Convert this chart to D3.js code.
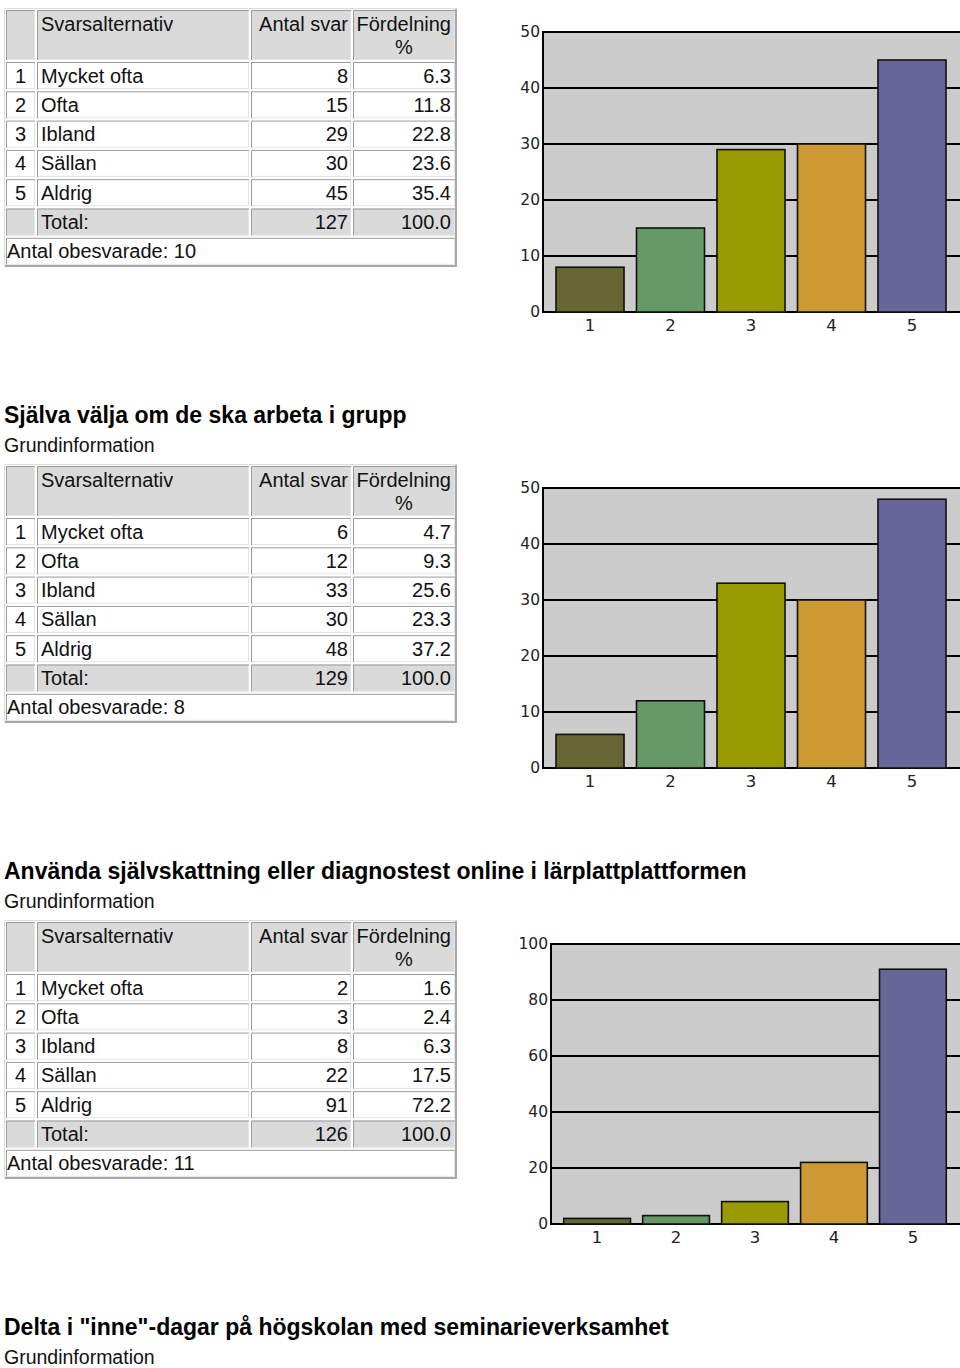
<!DOCTYPE html>
<html>
<head>
<meta charset="utf-8">
<script src="https://cdn.jsdelivr.net/npm/d3@7"></script>
<style>
  html, body { margin: 0; padding: 0; background: #fff; }
  svg { display: block; }
</style>
</head>
<body>
<div id="chart"></div>
<script>
// ---------- DATA ----------
const categories = ["Mycket ofta", "Ofta", "Ibland", "Sällan", "Aldrig"];
const xTickLabels = ["1", "2", "3", "4", "5"];
const headerLabels = ["Svarsalternativ", "Antal svar", "Fördelning", "%"];
const titles = [
  null,
  "Själva välja om de ska arbeta i grupp",
  "Använda självskattning eller diagnostest online i lärplattplattformen",
  "Delta i \"inne\"-dagar på högskolan med seminarieverksamhet"
];
const subtitle = "Grundinformation";

const counts1 = [8, 15, 29, 30, 45];
const pct1 = ["6.3", "11.8", "22.8", "23.6", "35.4"];
const counts2 = [6, 12, 33, 30, 48];
const pct2 = ["4.7", "9.3", "25.6", "23.3", "37.2"];
const counts3 = [2, 3, 8, 22, 91];
const pct3 = ["1.6", "2.4", "6.3", "17.5", "72.2"];
const totals = [127, 129, 126];
const unanswered = [10, 8, 11];
const yMax = [50, 50, 100];
const yTicks1 = [0, 10, 20, 30, 40, 50];
const yTicks3 = [0, 20, 40, 60, 80, 100];
const barColors = ["#666633", "#669966", "#999900", "#cc9933", "#666699"];

const questions = [
  { counts: counts1, pct: pct1, total: totals[0], unans: unanswered[0], max: yMax[0], ticks: yTicks1 },
  { counts: counts2, pct: pct2, total: totals[1], unans: unanswered[1], max: yMax[1], ticks: yTicks1 },
  { counts: counts3, pct: pct3, total: totals[2], unans: unanswered[2], max: yMax[2], ticks: yTicks3 }
];

// ---------- LAYOUT ----------
const W = 960, H = 1368, STEP = 456;
const tableFont = "'Liberation Sans', Arial, Helvetica, sans-serif";
const chartFont = "'DejaVu Sans', Verdana, sans-serif";
const tSize = "20px";

const svg = d3.select("#chart").append("svg")
  .attr("width", W).attr("height", H);

// Titles
titles.forEach((t, k) => {
  if (!t) return;
  const oy = (k - 1) * STEP;
  svg.append("text").attr("x", 4).attr("y", 423 + oy)
    .attr("font-family", tableFont).attr("font-size", "23px").attr("font-weight", "bold")
    .attr("fill", "#000").text(t);
  svg.append("text").attr("x", 4).attr("y", 452 + oy)
    .attr("font-family", tableFont).attr("font-size", "19.5px")
    .attr("fill", "#111").text(subtitle);
});

const cols = [[6, 35], [37, 249], [251, 351], [353, 455]];

function cell(g, x0, x1, y0, y1, fill) {
  g.append("rect").attr("x", x0).attr("y", y0).attr("width", x1 - x0).attr("height", y1 - y0).attr("fill", fill);
  g.append("path").attr("d", `M${x0 + 0.5},${y1}V${y0 + 0.5}H${x1}`).attr("fill", "none").attr("stroke", "#9a9a9a").attr("stroke-width", 1);
  g.append("path").attr("d", `M${x0 + 1},${y1 - 0.5}H${x1 - 0.5}V${y0 + 1}`).attr("fill", "none").attr("stroke", "#e4e4e4").attr("stroke-width", 1);
}

function txt(g, x, y, s, anchor) {
  g.append("text").attr("x", x).attr("y", y).attr("text-anchor", anchor || "start")
    .attr("font-family", tableFont).attr("font-size", tSize).attr("fill", "#111").text(s);
}

questions.forEach((q, k) => {
  const oy = k * STEP;
  const g = svg.append("g").attr("transform", `translate(0,${oy})`);

  // ---- table ----
  const tTop = 8, tBot = 267;
  g.append("rect").attr("x", 4).attr("y", tTop).attr("width", 453).attr("height", tBot - tTop).attr("fill", "#fff");
  g.append("path").attr("d", `M4.5,${tBot}V${tTop + 0.5}H457`).attr("fill", "none").attr("stroke", "#dcdcdc");
  g.append("path").attr("d", `M5,${tBot - 1}H456V${tTop + 1}`).attr("fill", "none").attr("stroke", "#a8a8a8").attr("stroke-width", 2);

  const hdrFill = "#dadada";
  cols.forEach(c => cell(g, c[0], c[1], 10, 60, hdrFill));
  txt(g, 41, 30.5, headerLabels[0]);
  txt(g, 348, 30.5, headerLabels[1], "end");
  txt(g, 451, 30.5, headerLabels[2], "end");
  txt(g, 404, 53.5, headerLabels[3], "middle");

  const rowTop = i => 62 + 29.3 * i;
  categories.forEach((c, i) => {
    const y0 = rowTop(i), y1 = y0 + 27;
    cols.forEach(cc => cell(g, cc[0], cc[1], y0, y1, "#fff"));
    txt(g, 20.5, y0 + 20.5, String(i + 1), "middle");
    txt(g, 41, y0 + 20.5, c);
    txt(g, 348, y0 + 20.5, String(q.counts[i]), "end");
    txt(g, 451, y0 + 20.5, q.pct[i], "end");
  });
  {
    const y0 = rowTop(5), y1 = y0 + 27;
    cols.forEach(cc => cell(g, cc[0], cc[1], y0, y1, hdrFill));
    txt(g, 41, y0 + 20.5, "Total:");
    txt(g, 348, y0 + 20.5, String(q.total), "end");
    txt(g, 451, y0 + 20.5, "100.0", "end");
  }
  {
    const y0 = rowTop(6), y1 = y0 + 27;
    cell(g, 6, 455, y0, y1, "#fff");
    txt(g, 7, y0 + 20.5, "Antal obesvarade: " + q.unans);
  }

  // ---- chart ----
  const L = q.max === 100 ? 551 : 543;
  const R = 959, T = 32, B = 312;
  const x = d3.scaleBand().domain(xTickLabels).range([L, R]).paddingInner(0.155).paddingOuter(0.1615);
  const y = d3.scaleLinear().domain([0, q.max]).range([B, T]);

  g.append("rect").attr("x", L).attr("y", T).attr("width", W - L + 5).attr("height", B - T).attr("fill", "#cccccc");
  g.selectAll(null).data(q.ticks.filter(t => t > 0 && t < q.max)).enter().append("line")
    .attr("x1", L).attr("x2", W + 5).attr("y1", d => y(d)).attr("y2", d => y(d))
    .attr("stroke", "#000").attr("stroke-width", 2);
  g.append("path").attr("d", `M${W + 5},${T}H${L}V${B}H${W + 5}`).attr("fill", "none").attr("stroke", "#000").attr("stroke-width", 2);

  g.selectAll(null).data(q.counts).enter().append("rect")
    .attr("x", (d, i) => x(xTickLabels[i]))
    .attr("y", d => y(d))
    .attr("width", x.bandwidth())
    .attr("height", d => B - y(d))
    .attr("fill", (d, i) => barColors[i])
    .attr("stroke", "#111").attr("stroke-width", 1.6);

  const yAxis = d3.axisLeft(y).tickValues(q.ticks).tickSize(0).tickPadding(3);
  const ya = g.append("g").attr("transform", `translate(${L},0)`).call(yAxis);
  ya.select(".domain").remove();
  ya.selectAll("text").attr("font-family", chartFont).attr("font-size", "15.5px").attr("fill", "#222");

  const xAxis = d3.axisBottom(x).tickSize(0).tickPadding(7);
  const xa = g.append("g").attr("transform", `translate(0,${B})`).call(xAxis);
  xa.select(".domain").remove();
  xa.selectAll("text").attr("font-family", chartFont).attr("font-size", "16.5px").attr("fill", "#222");
});
</script>
</body>
</html>
